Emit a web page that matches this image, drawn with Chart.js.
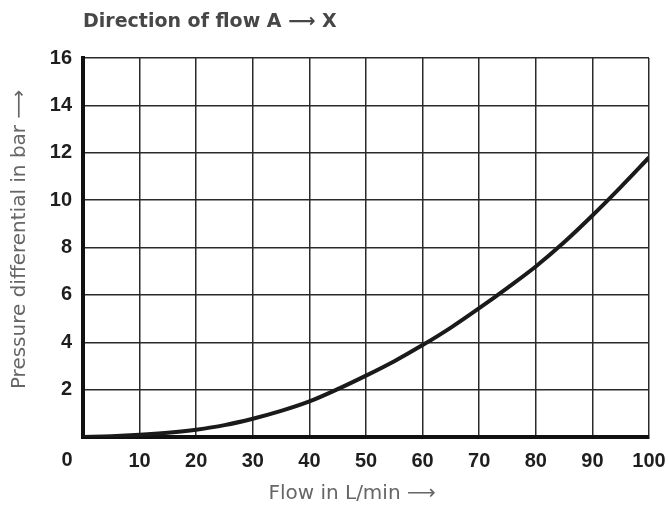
<!DOCTYPE html>
<html>
<head>
<meta charset="utf-8">
<script src="https://cdn.jsdelivr.net/npm/chart.js@4/dist/chart.umd.min.js"></script>
<style>
  html, body { margin: 0; padding: 0; background: #ffffff; }
  #wrap { width: 669px; height: 508px; position: relative; }
</style>
</head>
<body>
<div id="wrap"><canvas id="chart"></canvas></div>
<script>
// Flow rate (L/min) and pressure differential (bar), direction A -> X
const flow = [0, 5, 10, 15, 20, 25, 30, 35, 40, 45, 50, 55, 60, 65, 70, 75, 80, 85, 90, 95, 100];
const pressure = [0, 0.03, 0.09, 0.18, 0.31, 0.5, 0.77, 1.1, 1.5, 2.02, 2.59, 3.2, 3.88, 4.62, 5.44, 6.3, 7.2, 8.22, 9.35, 10.55, 11.8];

const xTicks = [0, 10, 20, 30, 40, 50, 60, 70, 80, 90, 100];
const yTicks = [0, 2, 4, 6, 8, 10, 12, 14, 16];

const chartTitle = 'Direction of flow A \u27F6 X';
const xTitle = 'Flow in L/min \u27F6';
const yTitle = 'Pressure differential in bar \u27F6';

const tickFont = { family: '"Liberation Sans", Arial, sans-serif', size: 20, weight: 'bold' };
const tickColor = '#1e1e1e';

// Titles and the detached "0" origin label
const annotations = {
  id: 'annotations',
  afterDraw(chart) {
    const { ctx, chartArea, scales } = chart;
    ctx.save();

    // chart heading
    ctx.fillStyle = '#474747';
    ctx.font = 'bold 19px "DejaVu Sans", sans-serif';
    ctx.textAlign = 'left';
    ctx.textBaseline = 'middle';
    ctx.fillText(chartTitle, chartArea.left, 22);

    // x axis title
    ctx.fillStyle = '#666666';
    ctx.font = '20px "DejaVu Sans", sans-serif';
    ctx.textAlign = 'center';
    ctx.fillText(xTitle, (chartArea.left + chartArea.right) / 2 - 14, 494);

    // y axis title
    ctx.translate(20, (chartArea.top + chartArea.bottom) / 2 - 8);
    ctx.rotate(-Math.PI / 2);
    ctx.fillText(yTitle, 0, 0);
    ctx.restore();

    // origin label, set off to the left of the corner
    ctx.save();
    ctx.fillStyle = tickColor;
    ctx.font = 'bold 20px "Liberation Sans", Arial, sans-serif';
    ctx.textAlign = 'center';
    ctx.textBaseline = 'middle';
    ctx.fillText(String(xTicks[0]), scales.x.getPixelForValue(xTicks[0]) - 16, 460);
    ctx.restore();
  }
};

new Chart(document.getElementById('chart'), {
  type: 'line',
  data: {
    datasets: [{
      data: flow.map((f, i) => ({ x: f, y: pressure[i] })),
      borderColor: '#1a1a1a',
      borderWidth: 4,
      pointRadius: 0,
      tension: 0.4,
      cubicInterpolationMode: 'monotone',
      fill: false
    }]
  },
  options: {
    responsive: true,
    maintainAspectRatio: false,
    animation: false,
    devicePixelRatio: 1,
    layout: { padding: { top: 58, right: 0, left: 0, bottom: 0 } },
    plugins: { legend: { display: false }, tooltip: { enabled: false }, title: { display: false } },
    scales: {
      x: {
        type: 'linear',
        min: xTicks[0],
        max: xTicks[xTicks.length - 1],
        afterBuildTicks(scale) { scale.ticks = xTicks.map(v => ({ value: v })); },
        afterFit(scale) { scale.height = 71; scale.paddingRight = 20; },
        grid: { color: '#2a2a2a', lineWidth: 1.5, drawTicks: false },
        border: { color: '#111111', width: 4 },
        ticks: {
          font: tickFont,
          color: tickColor,
          padding: 12,
          maxRotation: 0,
          autoSkip: false,
          callback: v => (v === xTicks[0] ? '' : String(v))
        }
      },
      y: {
        min: yTicks[0],
        max: yTicks[yTicks.length - 1],
        afterBuildTicks(scale) { scale.ticks = yTicks.map(v => ({ value: v })); },
        afterFit(scale) { scale.width = 83; },
        grid: { color: '#2a2a2a', lineWidth: 1.5, drawTicks: false },
        border: { color: '#111111', width: 4 },
        ticks: {
          font: tickFont,
          color: tickColor,
          padding: 11,
          autoSkip: false,
          callback: v => (v === yTicks[0] ? '' : String(v))
        }
      }
    }
  },
  plugins: [annotations]
});
</script>
</body>
</html>
